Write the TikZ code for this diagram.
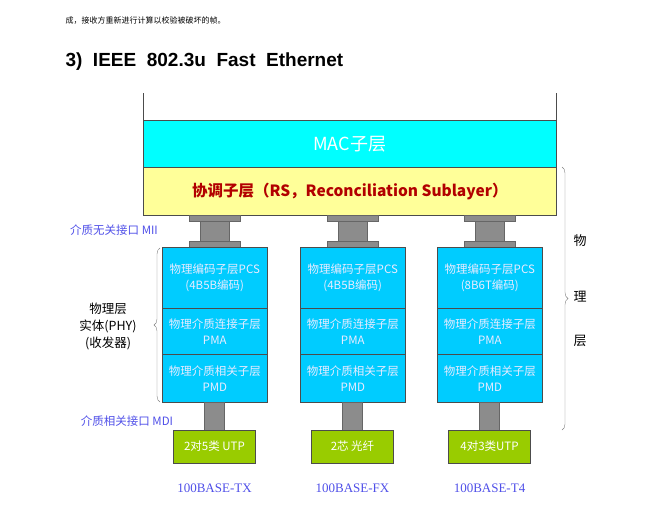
\documentclass[tikz,border=0pt]{standalone}
\usepackage{fontspec}
\setmainfont{Liberation Serif}
\newfontfamily\cjk{Noto Sans CJK SC}
\newfontfamily\hd{Liberation Sans}
\usetikzlibrary{decorations.pathreplacing}
\definecolor{cyanbox}{HTML}{00FFFF}
\definecolor{colbox}{HTML}{00CCFF}
\definecolor{rsbox}{HTML}{FFFF99}
\definecolor{lblue}{HTML}{4F4FE8}
\definecolor{grn}{HTML}{99CC00}
\definecolor{gry}{HTML}{8C8C8C}
\begin{document}
\begin{tikzpicture}[x=1pt,y=-1pt,
  box/.style={draw=black!70,line width=0.6pt,inner sep=0},
  cell/.style={box,fill=colbox,text=white!92!blue,font=\cjk\fontsize{11.5}{16}\selectfont,align=center},
  plate/.style={draw=black!60,fill=gry,line width=0.4pt},
  lbl/.style={text=lblue,font=\cjk\fontsize{11.5}{14}\selectfont},
  base/.style={text=lblue,font=\fontsize{13}{15}\selectfont}]
\useasboundingbox (0,0) rectangle (666,515);
\node[anchor=west,font=\cjk\fontsize{8}{10}\selectfont] (intro) at (62,21) {成，接收方重新进行计算以校验被破坏的帧。};
\node[anchor=west,font=\hd\bfseries\fontsize{19}{22}\selectfont] (title) at (62,62) {3)\ \ IEEE\ \ 802.3u\ \ Fast\ \ Ethernet};
\draw[black!70] (143,93) -- (143,120) (556,93) -- (556,120);
\node[box,fill=cyanbox,minimum width=413,minimum height=47,anchor=north west,text=white,font=\cjk\fontsize{18}{20}\selectfont] (mac) at (143,120) {MAC子层};
\node[box,fill=rsbox,minimum width=413,minimum height=48,anchor=north west,text=red!70!black,font=\cjk\bfseries\fontsize{15.5}{18}\selectfont] (rs) at (143,167) {协调子层（RS，Reconciliation Sublayer）};
\foreach \i/\x/\pa/\pb/\med/\nm in {1/162/4B5B编码/2对5类 UTP/TX/a, 2/300/4B5B编码/2芯 光纤/FX/b, 3/437/8B6T编码/4对3类UTP/T4/c}{
  \pgfmathsetmacro\cx{\x+52.5}
  \draw[plate] (\cx-25.5,215) rectangle (\cx+25.5,221);
  \draw[plate] (\cx-14.5,221) rectangle (\cx+14.5,241);
  \draw[plate] (\cx-25.5,241) rectangle (\cx+25.5,247);
  \node[cell,minimum width=105,minimum height=61,anchor=north west] (pcs\nm) at (\x,247) {物理编码子层PCS\\(\pa)};
  \node[cell,minimum width=105,minimum height=46,anchor=north west] (pma\nm) at (\x,308) {物理介质连接子层\\PMA};
  \node[cell,minimum width=105,minimum height=48,anchor=north west] (pmd\nm) at (\x,354) {物理介质相关子层\\PMD};
  \draw[plate] (\cx-10,402) rectangle (\cx+10,430);
  \node[box,fill=grn,minimum width=82,minimum height=33,text=white,font=\cjk\fontsize{11.5}{14}\selectfont] (utp\nm) at (\cx,446.5) {\pb};
  \node[base] (lb\nm) at (\cx,488) {100BASE-\med};
}
\node[lbl] (mii) at (114,230) {介质无关接口 MII};
\node[lbl] (mdi) at (127,421) {介质相关接口 MDI};
\draw[gray,decorate,decoration={brace,amplitude=6pt}] (160,402) -- (160,248);
\node[align=center,font=\cjk\fontsize{12.5}{17}\selectfont] (phy) at (108,326) {物理层\\实体(PHY)\\(收发器)};
\draw[gray,decorate,decoration={brace,amplitude=6pt}] (562,167) -- (562,430);
\node[font=\cjk\fontsize{13}{15}\selectfont] (w1) at (580,241) {物};
\node[font=\cjk\fontsize{13}{15}\selectfont] (w2) at (580,297) {理};
\node[font=\cjk\fontsize{13}{15}\selectfont] (w3) at (580,341) {层};
\end{tikzpicture}
\end{document}
